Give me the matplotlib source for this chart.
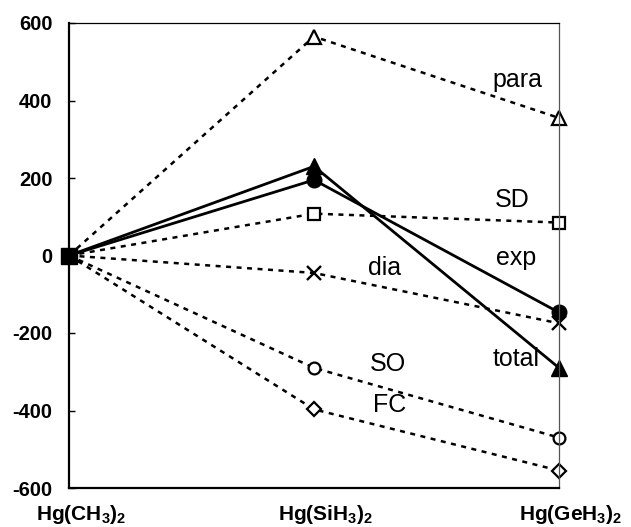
import matplotlib
matplotlib.use("Agg")
import matplotlib.pyplot as plt
from matplotlib.transforms import ScaledTranslation

plt.rcParams['font.family'] = ['Liberation Sans', 'DejaVu Sans']
plt.rcParams['mathtext.fontset'] = 'custom'
plt.rcParams['mathtext.rm'] = 'Liberation Sans'
plt.rcParams['mathtext.bf'] = 'Liberation Sans:bold'
plt.rcParams['mathtext.it'] = 'Liberation Sans:italic'

categories = [r'$\mathbf{Hg(CH_3)_2}$', r'$\mathbf{Hg(SiH_3)_2}$', r'$\mathbf{Hg(GeH_3)_2}$']
para = [0, 565, 355]
sd = [0, 108, 85]
dia = [0, -45, -175]
so = [0, -290, -470]
fc = [0, -397, -555]
total = [0, 230, -290]
exp = [0, 195, -147]
yticks = [-600, -400, -200, 0, 200, 400, 600]

x = list(range(len(categories)))

fig = plt.figure(figsize=(6.31, 5.27), dpi=100)
ax = fig.add_axes([69/631, 1-488/527, (559-69)/631, (488-23)/527])

dash = (0, (2.0, 2.2))
dkw = dict(color='black', lw=1.8, linestyle=dash, markevery=[1, 2], clip_on=False,
           markerfacecolor='white', markeredgecolor='black', markeredgewidth=1.6)
ax.plot(x, para, marker='^', markersize=10, **dkw)
ax.plot(x, sd, marker='s', markersize=8.5, **dkw)
ax.plot(x, dia, marker='x', markersize=9.5, **{**dkw, 'markeredgewidth': 1.7})
ax.plot(x, so, marker='o', markersize=8.5, **dkw)
ax.plot(x, fc, marker='D', markersize=7, **dkw)

skw = dict(color='black', lw=2.0, linestyle='-', markevery=[1, 2], clip_on=False,
           markerfacecolor='black', markeredgecolor='black')
ax.plot(x, total, marker='^', markersize=11, **skw)
ax.plot(x, exp, marker='o', markersize=10.5, **skw)

ax.plot([x[0]], [total[0]], marker='s', markersize=12, color='black', clip_on=False, zorder=5)

lab = dict(fontsize=18, ha='center', va='center')
ax.text(1.829, 453, 'para', **lab)
ax.text(1.808, 143, 'SD', **lab)
ax.text(1.824, -6, 'exp', **lab)
ax.text(1.290, -32, 'dia', **lab)
ax.text(1.824, -267, 'total', **lab)
ax.text(1.302, -280, 'SO', **lab)
ax.text(1.310, -386, 'FC', **lab)

ax.set_xlim(0, 2)
ax.set_ylim(-600, 600)
ax.set_yticks(yticks)
ax.set_yticklabels([str(v) for v in yticks], fontsize=14.5, fontweight='bold')
ax.set_xticks(x)
ax.set_xticklabels(categories, fontsize=15)
ax.tick_params(axis='y', direction='in', length=4, width=1, pad=12)
ax.tick_params(axis='x', length=0, pad=11)
shift = ScaledTranslation(12/100, 0, fig.dpi_scale_trans)
for t in ax.get_xticklabels():
    t.set_transform(t.get_transform() + shift)

ax.spines['left'].set_linewidth(1.6)
ax.spines['bottom'].set_linewidth(1.6)
ax.spines['top'].set_linewidth(0.9)
ax.spines['right'].set_linewidth(0.9)
ax.spines['right'].set_color('#555555')

fig.savefig('out.png', dpi=100)
